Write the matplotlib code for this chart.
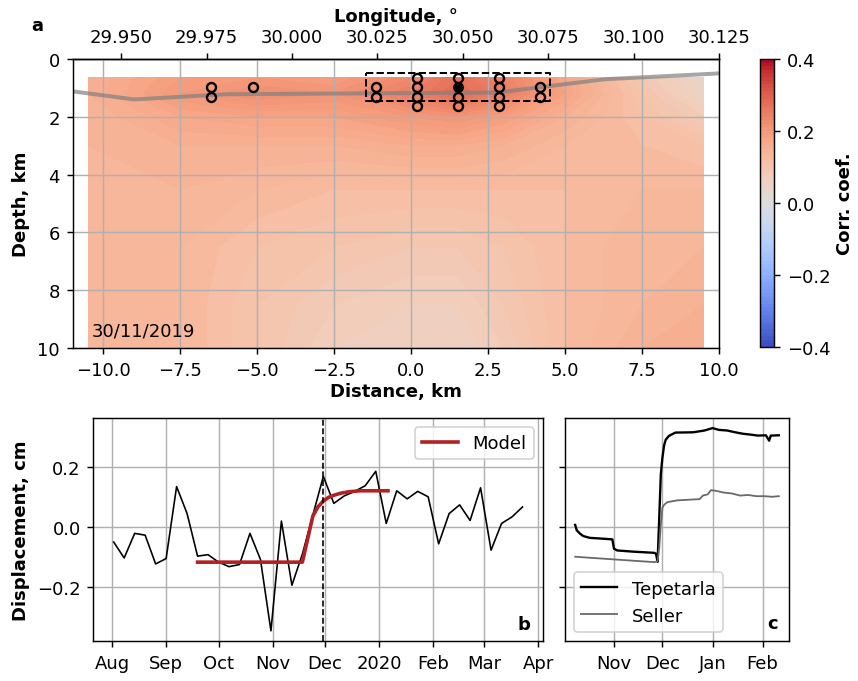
import numpy as np
import pandas as pd
import matplotlib
matplotlib.use('Agg')
import matplotlib.pyplot as plt
import matplotlib.dates as mdates
from matplotlib.ticker import MultipleLocator, FormatStrFormatter

# ---- panel a: correlation section ----
dist_grid = [-10.5, -7.5, -5.0, -2.5, 0.0, 1.5, 3.0, 5.0, 7.5, 9.5]
depth_grid = [0.65, 1.2, 2.0, 3.0, 4.5, 6.5, 8.5, 10.0]
corr = [
    [0.15, 0.19, 0.20, 0.19, 0.23, 0.27, 0.24, 0.17, 0.09, 0.04],
    [0.15, 0.20, 0.22, 0.21, 0.25, 0.28, 0.25, 0.18, 0.10, 0.05],
    [0.14, 0.17, 0.18, 0.18, 0.20, 0.21, 0.19, 0.15, 0.11, 0.08],
    [0.14, 0.15, 0.15, 0.15, 0.16, 0.16, 0.15, 0.13, 0.12, 0.11],
    [0.14, 0.14, 0.13, 0.12, 0.12, 0.12, 0.12, 0.12, 0.13, 0.13],
    [0.14, 0.13, 0.11, 0.10, 0.09, 0.09, 0.10, 0.12, 0.14, 0.14],
    [0.14, 0.13, 0.10, 0.08, 0.07, 0.07, 0.09, 0.12, 0.14, 0.15],
    [0.14, 0.13, 0.10, 0.07, 0.06, 0.06, 0.08, 0.12, 0.15, 0.16],
]

topo_x = [-11, -9, -6, 0, 2.8, 6.3, 10]
topo_d = [1.12, 1.4, 1.22, 1.18, 1.16, 0.7, 0.5]

sta_x = [-6.5, -6.5, -5.15, -1.15, -1.15,
         0.18, 0.18, 0.18, 0.18,
         1.52, 1.52, 1.52,
         2.85, 2.85, 2.85, 2.85,
         4.18, 4.18]
sta_d = [0.98, 1.31, 0.98, 0.98, 1.31,
         0.65, 0.98, 1.31, 1.64,
         0.65, 1.31, 1.64,
         0.65, 0.98, 1.31, 1.64,
         0.98, 1.31]
main_x, main_d = 1.52, 0.98
box_x = [-1.48, 4.52]
box_d = [0.48, 1.47]

# ---- panel b: InSAR displacement ----
disp_dates = pd.date_range('2019-08-02', periods=40, freq='6D')
disp = [-0.050, -0.103, -0.021, -0.027, -0.123, -0.105, 0.135, 0.045, -0.097, -0.092,
        -0.117, -0.132, -0.125, -0.021, -0.108, -0.346, 0.020, -0.194, -0.090, 0.040,
        0.169, 0.079, 0.104, 0.119, 0.138, 0.186, 0.012, 0.121, 0.094, 0.119,
        0.101, -0.056, 0.045, 0.074, 0.022, 0.131, -0.077, 0.012, 0.034, 0.067]
model_dates = pd.to_datetime(['2019-09-19', '2019-11-18', '2019-11-24', '2019-11-27',
                              '2019-11-30', '2019-12-03', '2019-12-06', '2019-12-10',
                              '2019-12-15', '2019-12-21', '2020-01-06'])
model = [-0.117, -0.117, 0.037, 0.068, 0.087, 0.099, 0.106, 0.113, 0.118, 0.121, 0.121]
event = pd.Timestamp('2019-11-30')

# ---- panel c: GNSS stations ----
tep_dates = pd.to_datetime(['2019-10-08', '2019-10-09', '2019-10-11', '2019-10-13', '2019-10-17',
                            '2019-10-23', '2019-10-31', '2019-11-01', '2019-11-03', '2019-11-13',
                            '2019-11-26', '2019-11-27', '2019-11-28', '2019-11-29', '2019-11-30',
                            '2019-12-01', '2019-12-02', '2019-12-03', '2019-12-05', '2019-12-09',
                            '2019-12-20', '2019-12-27', '2020-01-01', '2020-01-05', '2020-01-10',
                            '2020-01-15', '2020-01-20', '2020-01-25', '2020-01-29', '2020-02-03',
                            '2020-02-05', '2020-02-06', '2020-02-11'])
tep = [0.007, -0.011, -0.022, -0.030, -0.036, -0.038, -0.041, -0.072, -0.078, -0.082,
       -0.086, -0.089, -0.116, 0.031, 0.177, 0.232, 0.272, 0.291, 0.304, 0.315,
       0.316, 0.322, 0.330, 0.324, 0.322, 0.316, 0.311, 0.308, 0.305, 0.306,
       0.288, 0.305, 0.306]
sel_dates = pd.to_datetime(['2019-10-08', '2019-11-26', '2019-11-28', '2019-11-29', '2019-11-30',
                            '2019-12-01', '2019-12-02', '2019-12-04', '2019-12-10', '2019-12-20',
                            '2019-12-24', '2019-12-26', '2019-12-29', '2019-12-31', '2020-01-03',
                            '2020-01-08', '2020-01-13', '2020-01-18', '2020-01-23', '2020-01-28',
                            '2020-02-02', '2020-02-07', '2020-02-11'])
sel = [-0.099, -0.117, -0.114, -0.069, 0.009, 0.065, 0.074, 0.083, 0.089, 0.092,
       0.093, 0.105, 0.109, 0.123, 0.121, 0.115, 0.112, 0.105, 0.107, 0.103,
       0.103, 0.101, 0.103]

km_per_deg = 111.0
lon_at_10km = 30.125


def km2lon(x):
    return lon_at_10km + (x - 10) / km_per_deg


def lon2km(lon):
    return 10 + (lon - lon_at_10km) * km_per_deg


fig = plt.figure(figsize=(6.6, 5.246), dpi=130)
ax = fig.add_axes([0.0847, 0.4883, 0.7533, 0.4238])
cax = fig.add_axes([0.8858, 0.4897, 0.0163, 0.4223])
axb = fig.add_axes([0.1087, 0.0587, 0.5241, 0.327])
axc = fig.add_axes([0.6585, 0.0587, 0.2611, 0.327], sharey=axb)

levels = np.linspace(-0.4, 0.4, 81)
cf = ax.contourf(dist_grid, depth_grid, np.array(corr), levels=levels,
                 cmap='coolwarm', vmin=-0.4, vmax=0.4)
ax.plot(topo_x, topo_d, color='gray', alpha=0.7, lw=2.2)
ax.plot(sta_x, sta_d, 'o', mfc='none', mec='k', ms=5, mew=1.3)
ax.plot([main_x], [main_d], 'o', color='k', ms=5)
ax.plot([box_x[0], box_x[1], box_x[1], box_x[0], box_x[0]],
        [box_d[0], box_d[0], box_d[1], box_d[1], box_d[0]], 'k--', lw=1.1)
ax.set_xlim(-11, 10)
ax.set_ylim(10, 0)
ax.set_xticks(np.arange(-10, 10.1, 2.5))
ax.grid(True)
ax.set_xlabel('Distance, km', fontweight='bold', labelpad=2)
ax.set_ylabel('Depth, km', fontweight='bold')
ax.text(0.03, 0.03, '30/11/2019', transform=ax.transAxes, ha='left', va='bottom')

sec = ax.secondary_xaxis('top', functions=(km2lon, lon2km))
sec.xaxis.set_major_locator(MultipleLocator(0.025))
sec.xaxis.set_major_formatter(FormatStrFormatter('%.3f'))
sec.set_xlabel('Longitude, °', fontweight='bold')

cb = fig.colorbar(cf, cax=cax, ticks=[-0.4, -0.2, 0.0, 0.2, 0.4])
cb.set_label('Corr. coef.', fontweight='bold', labelpad=3)

fig.text(0.043, 0.962, 'a', fontweight='bold', ha='center', va='center')

# panel b
axb.plot(disp_dates, disp, color='k', lw=0.9)
axb.plot(model_dates, model, color='#b22222', lw=2, label='Model')
axb.axvline(event, color='k', ls='--', lw=0.9)
axb.xaxis.set_major_locator(mdates.MonthLocator())
axb.xaxis.set_major_formatter(mdates.ConciseDateFormatter(mdates.MonthLocator()))
axb.grid(True)
axb.legend(loc='upper right')
axb.set_ylabel('Displacement, cm', fontweight='bold')
axb.set_yticks([-0.2, 0.0, 0.2])
axb.text(0.971, 0.035, 'b', transform=axb.transAxes, ha='right', va='bottom', fontweight='bold')

# panel c
axc.plot(tep_dates, tep, color='k', lw=1.3, label='Tepetarla')
axc.plot(sel_dates, sel, color='dimgray', lw=1.0, label='Seller')
axc.xaxis.set_major_locator(mdates.MonthLocator())
axc.xaxis.set_major_formatter(mdates.DateFormatter('%b'))
axc.tick_params(labelleft=False)
axc.grid(True)
axc.legend(loc='lower left')
axc.text(0.95, 0.04, 'c', transform=axc.transAxes, ha='right', va='bottom', fontweight='bold')

fig.savefig('out.png', dpi=130)
